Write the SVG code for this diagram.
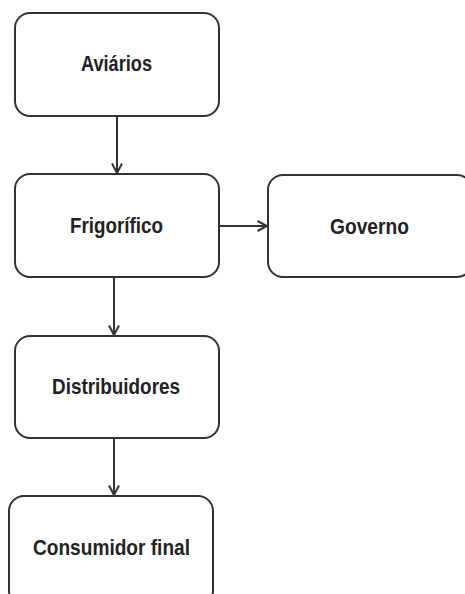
<svg xmlns="http://www.w3.org/2000/svg" width="465" height="594" viewBox="0 0 465 594">
<defs>
<style>
.box{fill:#fff;stroke:#333;stroke-width:2}
.lbl{font-family:"Liberation Sans",Arial,sans-serif;font-weight:bold;font-size:22.5px;fill:#222;text-anchor:middle}
.edge{fill:none;stroke:#333;stroke-width:2}
</style>
<marker id="arr" viewBox="0 0 12 12" refX="11" refY="6" markerWidth="12" markerHeight="12" markerUnits="userSpaceOnUse" orient="auto">
<path d="M1.5,1 L11,6 L1.5,11" fill="none" stroke="#333" stroke-width="2"/>
</marker>
</defs>
<rect width="465" height="594" fill="#fff"/>
<g id="connectors">
<line class="edge" x1="117" y1="116" x2="117" y2="173" marker-end="url(#arr)"/>
<line class="edge" x1="219" y1="226" x2="267" y2="226" marker-end="url(#arr)"/>
<line class="edge" x1="114" y1="277" x2="114" y2="335" marker-end="url(#arr)"/>
<line class="edge" x1="114" y1="438" x2="114" y2="495" marker-end="url(#arr)"/>
</g>
<g id="aviarios">
<rect class="box" x="15" y="13" width="204" height="103" rx="15"/>
<text class="lbl" x="116.5" y="71" textLength="71" lengthAdjust="spacingAndGlyphs">Aviários</text>
</g>
<g id="frigorifico">
<rect class="box" x="15" y="174" width="204" height="103" rx="15"/>
<text class="lbl" x="116.5" y="233" textLength="93" lengthAdjust="spacingAndGlyphs">Frigorífico</text>
</g>
<g id="governo">
<rect class="box" x="268" y="175" width="204" height="102" rx="15"/>
<text class="lbl" x="369.5" y="234" textLength="79" lengthAdjust="spacingAndGlyphs">Governo</text>
</g>
<g id="distribuidores">
<rect class="box" x="15" y="336" width="204" height="102" rx="15"/>
<text class="lbl" x="116" y="394" textLength="128" lengthAdjust="spacingAndGlyphs">Distribuidores</text>
</g>
<g id="consumidor">
<rect class="box" x="9" y="496" width="204" height="110" rx="15"/>
<text class="lbl" x="111.5" y="555" textLength="157" lengthAdjust="spacingAndGlyphs">Consumidor final</text>
</g>
</svg>
